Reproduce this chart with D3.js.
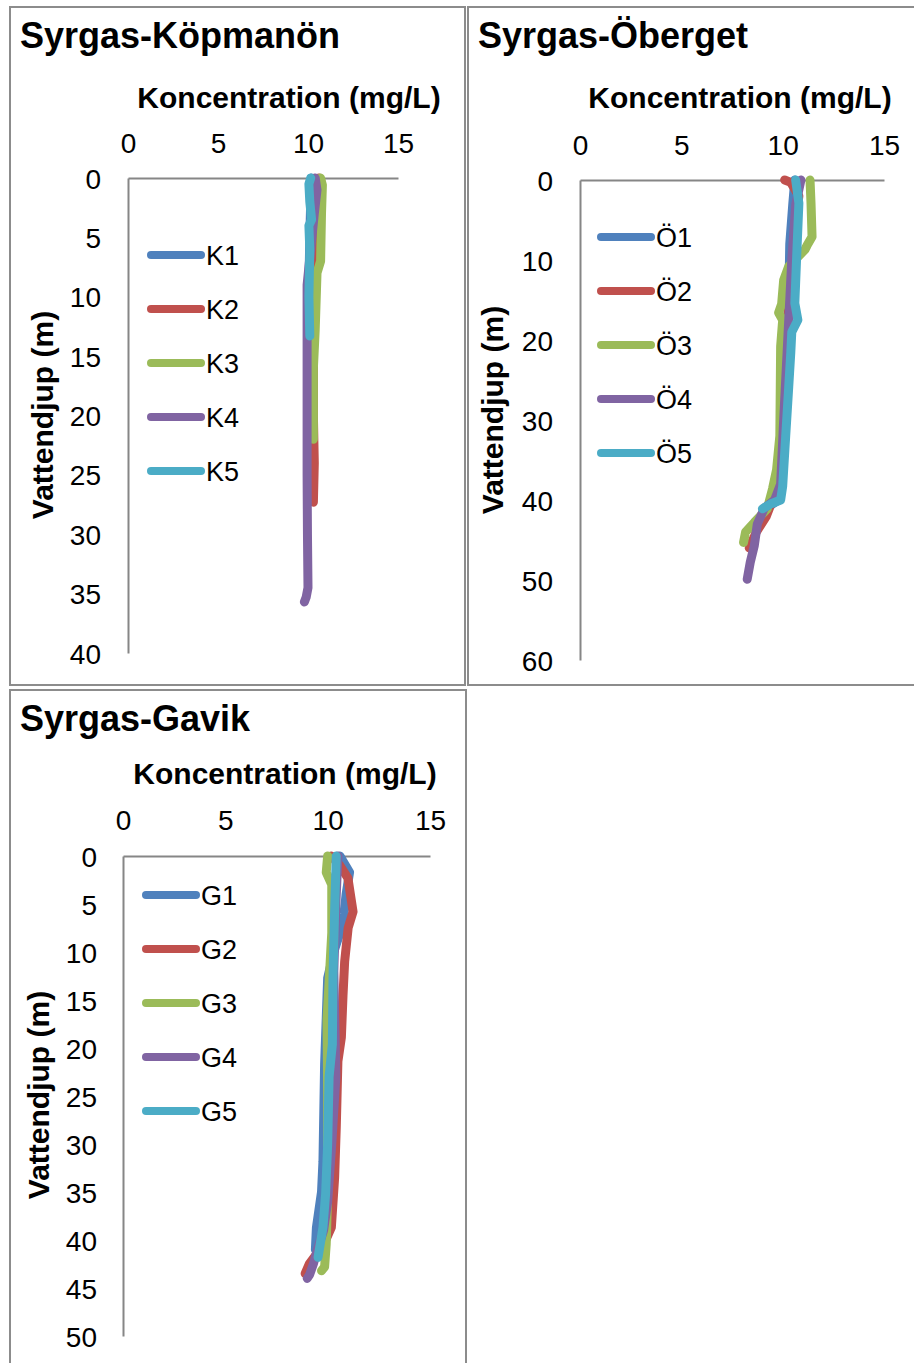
<!DOCTYPE html>
<html>
<head>
<meta charset="utf-8">
<script src="https://cdn.jsdelivr.net/npm/d3@7"></script>
<style>
  body { margin: 0; background: #fff; }
  svg { display: block; font-family: "Liberation Sans", Arial, sans-serif; }
  .domain { stroke: #868686; stroke-width: 2; }
</style>
</head>
<body>
<svg id="chart" width="914" height="1363"></svg>
<script>
// [depth (m), concentration (mg/L)]
const seriesColours = ["#4F81BD", "#C0504D", "#9BBB59", "#8064A2", "#4BACC6"];
const concTicks = [0, 5, 10, 15];

const kopNames = ["K1", "K2", "K3", "K4", "K5"];
const K1 = [[0,10.2],[2,10.15],[5,10.1],[9,10.05],[13,10.1]];
const K2 = [[0,10.6],[1,10.5],[4,10.35],[10,10.3],[20,10.3],[24,10.35],[27.3,10.3]];
const K3 = [[0,10.7],[0.6,10.8],[3,10.75],[7,10.7],[8,10.5],[12.8,10.4],[16,10.3],[22,10.3]];
const K4 = [[0,10.4],[1,10.5],[3,10.35],[6,10.15],[9,9.95],[15,9.95],[25,9.95],[30,9.97],[34.5,10.0],[35.3,9.9],[35.7,9.8]];
const K5 = [[0,10.15],[0.5,10.05],[2,10.1],[3.5,10.2],[4,10.05],[6,10.1],[10,10.05],[13.3,10.1]];
const kopDepthTicks = [0,5,10,15,20,25,30,35,40];

const obeNames = ["Ö1", "Ö2", "Ö3", "Ö4", "Ö5"];
const O1 = [[0,10.6],[3,10.5],[8,10.35],[15,10.3],[25,10.1],[35,10.0],[40,9.8],[41,9.2]];
const O2 = [[0,10.1],[0.3,10.4],[2,10.8],[5,10.65],[10,10.5],[15,10.3],[20,10.2],[30,10.0],[38,9.75],[40,9.5],[42,9.2],[44,8.7],[46,8.35]];
const O3 = [[0,11.35],[3,11.4],[7.1,11.45],[8.2,11.2],[8.7,11.1],[10.8,10.3],[12.5,10.05],[15.5,9.95],[16.6,9.8],[17.5,10.0],[20.8,9.9],[32,9.86],[36.2,9.7],[38.6,9.5],[41.1,9.24],[42.8,8.6],[44,8.17],[45.3,8.07]];
const O4 = [[0,10.9],[3,10.65],[10,10.45],[20,10.25],[30,10.05],[38,9.9],[40,9.6],[41,9.1],[43,8.75],[45.7,8.6],[47.8,8.4],[49.9,8.25]];
const O5 = [[0,10.64],[2.9,10.8],[9,10.7],[15.4,10.6],[17.5,10.75],[19,10.45],[21.6,10.4],[25.8,10.3],[32,10.15],[38.3,10.0],[40,9.9],[40.5,9.4],[41.1,9.0]];
const obeDepthTicks = [0,10,20,30,40,50,60];

const gavNames = ["G1", "G2", "G3", "G4", "G5"];
const G1 = [[0,10.6],[1.7,11.07],[4,10.9],[6,10.8],[8,10.6],[10,10.3],[12.7,10.0],[21.7,9.85],[31.8,9.77],[35,9.7],[38.7,9.45],[41,9.4]];
const G2 = [[0,10.18],[1,10.6],[2.3,10.99],[5.8,11.24],[7.5,11.0],[11,10.83],[14.5,10.75],[18.9,10.67],[21.4,10.5],[28.3,10.42],[33.5,10.34],[38.7,10.18],[40.5,9.8],[42.5,9.1],[43.5,8.9]];
const G3 = [[0,10.0],[1.7,9.93],[3,10.2],[8,10.2],[17,9.97],[25,10.0],[35,10.0],[40.4,9.93],[42.8,9.85],[43.2,9.7]];
const G4 = [[0,10.5],[5,10.4],[12,10.3],[23,10.4],[30,10.2],[36,10.0],[39,9.8],[41,9.5],[42.5,9.3],[43.6,9.12],[44,9.0]];
const G5 = [[0,10.42],[5.8,10.34],[12.7,10.26],[19.6,10.23],[23,10.07],[30,10.0],[35.2,9.9],[38.7,9.77],[41.8,9.53]];
const gavDepthTicks = [0,5,10,15,20,25,30,35,40,45,50];

const svg = d3.select("#chart");
svg.append("rect").attr("width", 914).attr("height", 1363).attr("fill", "#fff");

const panels = [
  {title: "Syrgas-Köpmanön", names: kopNames, series: [K1,K2,K3,K4,K5], yTicks: kopDepthTicks,
   box: [10, 7, 455, 678], plot: [128, 398, 178, 653], titleXY: [20, 48], xTitle: [289, 108],
   xLab: 153, yLab: 101, yTitle: [42, 415], legend: [147, 255]},
  {title: "Syrgas-Öberget", names: obeNames, series: [O1,O2,O3,O4,O5], yTicks: obeDepthTicks,
   box: [468, 7, 460, 678], plot: [580, 884, 180, 660], titleXY: [478, 48], xTitle: [740, 108],
   xLab: 155, yLab: 553, yTitle: [492, 410], legend: [597, 237]},
  {title: "Syrgas-Gavik", names: gavNames, series: [G1,G2,G3,G4,G5], yTicks: gavDepthTicks,
   box: [10, 690, 456, 690], plot: [123, 430, 856, 1336], titleXY: [20, 731], xTitle: [285, 784],
   xLab: 830, yLab: 97, yTitle: [38, 1095], legend: [142, 895]}
];

panels.forEach(function(p){
  let g = svg.append("g");

  g.append("rect")
    .attr("x", p.box[0]).attr("y", p.box[1])
    .attr("width", p.box[2]).attr("height", p.box[3])
    .attr("fill", "none").attr("stroke", "#8c8c8c").attr("stroke-width", 2);

  g.append("text")
    .attr("x", p.titleXY[0]).attr("y", p.titleXY[1])
    .attr("font-size", 36).attr("font-weight", "bold")
    .text(p.title);

  let x = d3.scaleLinear().domain([0, 15]).range([p.plot[0], p.plot[1]]);
  let yMax = p.yTicks[p.yTicks.length - 1];
  let y = d3.scaleLinear().domain([0, yMax]).range([p.plot[2], p.plot[3]]);

  let xAxis = g.append("g")
    .attr("transform", "translate(0," + p.plot[2] + ")")
    .call(d3.axisTop(x).tickValues(concTicks).tickSize(0).tickPadding(p.plot[2] - p.xLab));
  let yAxis = g.append("g")
    .attr("transform", "translate(" + p.plot[0] + ",0)")
    .call(d3.axisLeft(y).tickValues(p.yTicks).tickSize(0).tickPadding(p.plot[0] - p.yLab));
  [xAxis, yAxis].forEach(function(a){
    a.selectAll("text").attr("font-size", 28).attr("fill", "#000")
      .attr("font-family", "Liberation Sans, Arial, sans-serif");
  });
  yAxis.selectAll("text").attr("dy", "0.36em");

  g.append("text")
    .attr("x", p.xTitle[0]).attr("y", p.xTitle[1])
    .attr("text-anchor", "middle")
    .attr("font-size", 30).attr("font-weight", "bold")
    .text("Koncentration (mg/L)");

  g.append("text")
    .attr("transform", "translate(" + p.yTitle[0] + "," + p.yTitle[1] + ") rotate(-90)")
    .attr("text-anchor", "middle").attr("dy", "0.36em")
    .attr("font-size", 30).attr("font-weight", "bold")
    .text("Vattendjup (m)");

  let line = d3.line()
    .x(function(d){ return x(d[1]); })
    .y(function(d){ return y(d[0]); });

  g.selectAll(".profile")
    .data(p.series)
    .enter()
    .append("path")
    .attr("class", "profile")
    .attr("d", line)
    .attr("fill", "none")
    .attr("stroke", function(d, i){ return seriesColours[i]; })
    .attr("stroke-width", 9)
    .attr("stroke-linejoin", "round")
    .attr("stroke-linecap", "round");

  let legend = g.selectAll(".legendItem")
    .data(p.names)
    .enter()
    .append("g")
    .attr("class", "legendItem")
    .attr("transform", function(d, i){
      return "translate(" + p.legend[0] + "," + (p.legend[1] + i * 54) + ")";
    });
  legend.append("line")
    .attr("x1", 4).attr("x2", 54)
    .attr("stroke", function(d, i){ return seriesColours[i]; })
    .attr("stroke-width", 8)
    .attr("stroke-linecap", "round");
  legend.append("text")
    .attr("x", 59).attr("dy", "0.36em")
    .attr("font-size", 27)
    .text(function(d){ return d; });
});
</script>
</body>
</html>
